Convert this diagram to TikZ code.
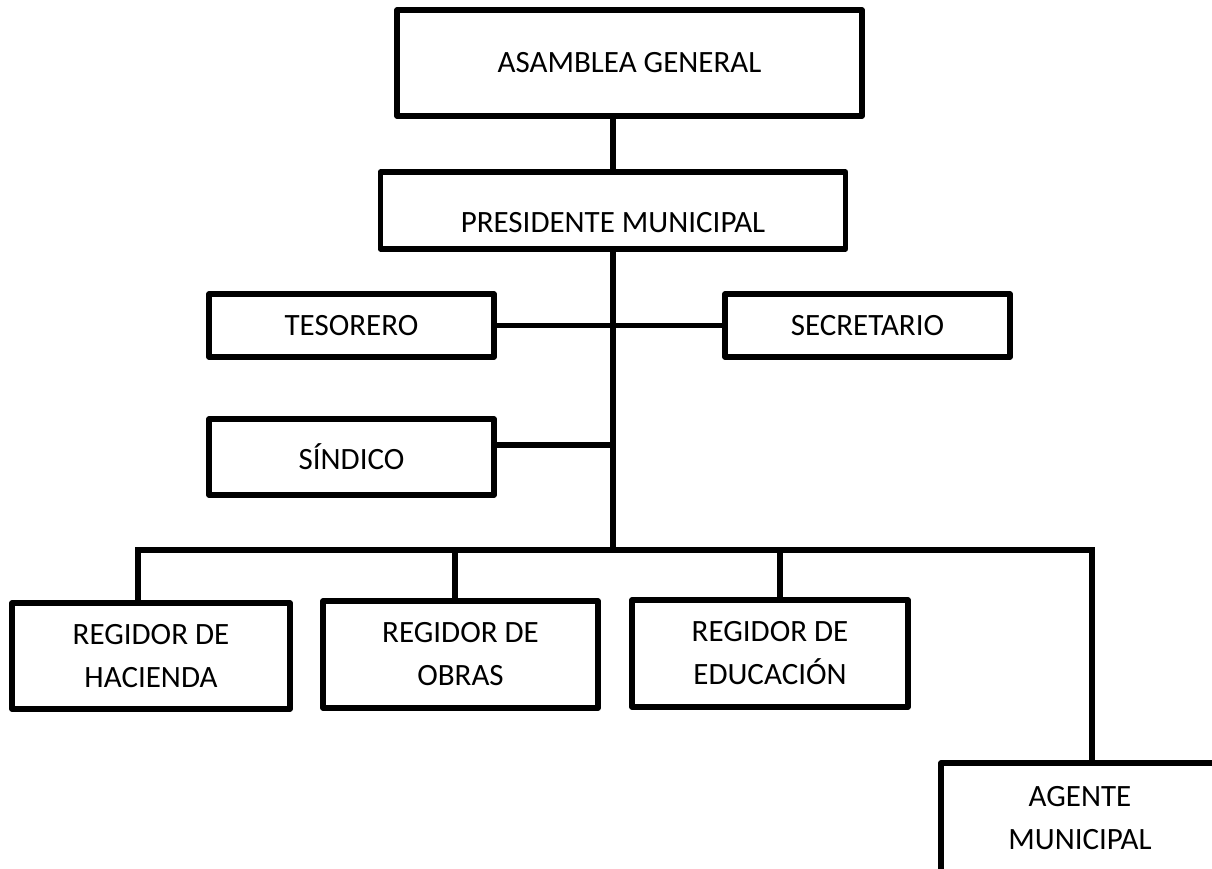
\documentclass[tikz,border=0pt]{standalone}
\usepackage{fontspec}
\setmainfont{Carlito}
\begin{document}
\begin{tikzpicture}[x=1pt,y=-1pt,
  box/.style={draw=black, line width=5.5pt, line join=round, inner sep=0pt, align=center,
    font=\fontsize{31}{43}\selectfont, text=black},
  conn/.style={draw=black, line width=5.5pt}]
\useasboundingbox (0,0) rectangle (1212,869);
\clip (0,0) rectangle (1212,869);
% boxes
\node[box, minimum width=465pt, minimum height=106pt] (asam) at (629.5,63) {ASAMBLEA GENERAL};
\node[box, minimum width=465pt, minimum height=77pt, text height=44.6pt, text depth=0pt] (pres) at (613,210.5) {PRESIDENTE MUNICIPAL};
\node[box, minimum width=285pt, minimum height=63pt] (tes) at (351.5,325.5) {TESORERO};
\node[box, minimum width=285pt, minimum height=63pt] (sec) at (867.5,325.5) {SECRETARIO};
\node[box, minimum width=285pt, minimum height=76pt] (sin) at (351.5,457) {SÍNDICO};
\node[box, minimum width=278pt, minimum height=106pt] (hac) at (151,656) {REGIDOR DE\\HACIENDA};
\node[box, minimum width=275pt, minimum height=107pt] (obr) at (460.5,654.5) {REGIDOR DE\\OBRAS};
\node[box, minimum width=276pt, minimum height=107pt] (edu) at (770,653.5) {REGIDOR DE\\EDUCACIÓN};
\node[box, minimum width=278pt, minimum height=111pt] (ag) at (1080,818.5) {AGENTE\\MUNICIPAL};
% coordinates
\coordinate (bus) at (613,550);
\coordinate (sl) at (613,445);
\coordinate (dh) at (138,550);
\coordinate (do) at (455,550);
\coordinate (de) at (780,550);
\coordinate (da) at (1092,550);
% connectors
\draw[conn] (pres.north) -- (pres.north |- asam.south);
\draw[conn] (pres.south) -- (bus);
\draw[conn] (tes.east) -- (sec.west);
\draw[conn] (sin.east |- sl) -- (sl);
\draw[conn] (dh |- hac.north) -- (dh) -- (da) -- (da |- ag.north);
\draw[conn] (do) -- (do |- obr.north);
\draw[conn] (de) -- (de |- edu.north);
\end{tikzpicture}
\end{document}
